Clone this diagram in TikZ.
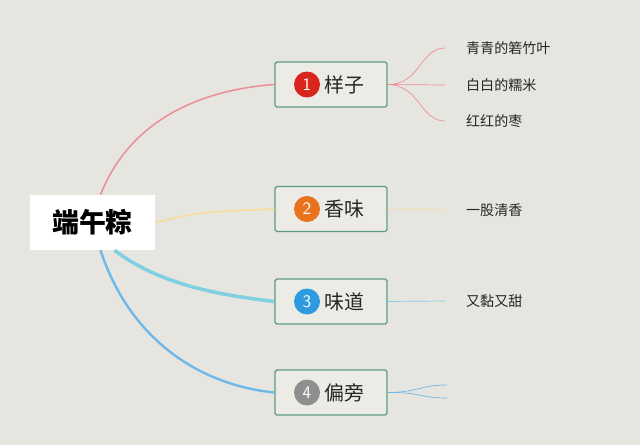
\documentclass[tikz,border=0pt]{standalone}
\usepackage{fontspec}
\newfontfamily\cjk{Noto Sans CJK SC}
\usetikzlibrary{positioning,calc}
\definecolor{bg}{HTML}{E7E5E0}
\definecolor{boxline}{HTML}{5E9C80}
\definecolor{boxfill}{HTML}{EDEBE6}
\definecolor{pinkline}{HTML}{EC8F95}
\definecolor{yellowline}{HTML}{F6DC98}
\definecolor{cyanline}{HTML}{7ED0E2}
\definecolor{blueline}{HTML}{6DB8EA}
\definecolor{redbadge}{HTML}{D8261C}
\definecolor{orangebadge}{HTML}{E8731C}
\definecolor{bluebadge}{HTML}{2E9BE0}
\definecolor{greybadge}{HTML}{8F8F8F}

\begin{document}
\begin{tikzpicture}[
        x=0.03cm, y=-0.03cm,
        root/.style={fill=white, minimum width=3.75cm, minimum height=1.65cm, font=\cjk\fontsize{23}{25}\selectfont\bfseries},
        topic/.style={draw=boxline, line width=1.2pt, fill=boxfill, rounded corners=1.5pt, minimum width=3.36cm, minimum height=1.35cm},
        badge/.style={circle, fill=#1, text=white, minimum size=0.78cm, inner sep=0pt, font=\sffamily\fontsize{15}{15}\selectfont},
        topictext/.style={font=\cjk\fontsize{17}{19}\selectfont, text=black!85},
        leaf/.style={anchor=west, font=\cjk\fontsize{12}{14}\selectfont, text=black!85}
    ]
    \fill[bg] (0,0) rectangle (640,445);

    % central topic
    \node[root] (duanwu) at (92.5,222.5) {端午粽};

    % main topics
    \node[topic] (yangzi) at (331,84.5) {};
    \node[topic] (xiangwei) at (331,209) {};
    \node[topic] (weidao) at (331,301.5) {};
    \node[topic] (pianpang) at (331,392.5) {};

    \node[badge=redbadge] (b1) at (307,84.5) {1};
    \node[badge=orangebadge] (b2) at (307,209) {2};
    \node[badge=bluebadge] (b3) at (307,301.5) {3};
    \node[badge=greybadge] (b4) at (307,392.5) {4};
    \node[topictext, right=0pt of b1] (t1) {样子};
    \node[topictext, right=0pt of b2] (t2) {香味};
    \node[topictext, right=0pt of b3] (t3) {味道};
    \node[topictext, right=0pt of b4] (t4) {偏旁};

    % leaves
    \node[leaf] (qing) at (462,48) {青青的箬竹叶};
    \node[leaf] (bai) at (462,85) {白白的糯米};
    \node[leaf] (hong) at (462,121) {红红的枣};
    \node[leaf] (qingxiang) at (462,210) {一股清香};
    \node[leaf] (tian) at (462,301) {又黏又甜};
    \coordinate (p1) at (447,385);
    \coordinate (p2) at (447,398);

    % connectors from the centre
    \draw[pinkline, line width=1.3pt] ($(duanwu.north)+(8,0)$) .. controls (130,120) and (200,90) .. (yangzi.west);
    \draw[yellowline, line width=1.3pt] (duanwu.east) .. controls (200,212) .. (xiangwei.west);
    \draw[cyanline, line width=3pt] ($(duanwu.south)+(22,0)$) .. controls (160,285) and (220,295) .. (weidao.west);
    \draw[blueline, line width=2pt] ($(duanwu.south)+(8,0)$) .. controls (130,340) and (200,385) .. (pianpang.west);

    % connectors to the leaves
    \draw[pinkline, line width=0.6pt] (yangzi.east) .. controls (420,85) and (420,48) .. ($(qing.west)+(-17,0)$);
    \draw[pinkline, line width=0.6pt] (yangzi.east) -- ($(bai.west)+(-17,0)$);
    \draw[pinkline, line width=0.6pt] (yangzi.east) .. controls (420,85) and (420,121) .. ($(hong.west)+(-17,0)$);
    \draw[yellowline, line width=0.6pt] (xiangwei.east) -- ($(qingxiang.west)+(-17,0)$);
    \draw[cyanline, line width=0.6pt] (weidao.east) -- ($(tian.west)+(-17,0)$);
    \draw[blueline, line width=0.6pt] (pianpang.east) .. controls (420,392) and (420,385) .. (p1);
    \draw[blueline, line width=0.6pt] (pianpang.east) .. controls (420,392) and (420,398) .. (p2);
\end{tikzpicture}
\end{document}
